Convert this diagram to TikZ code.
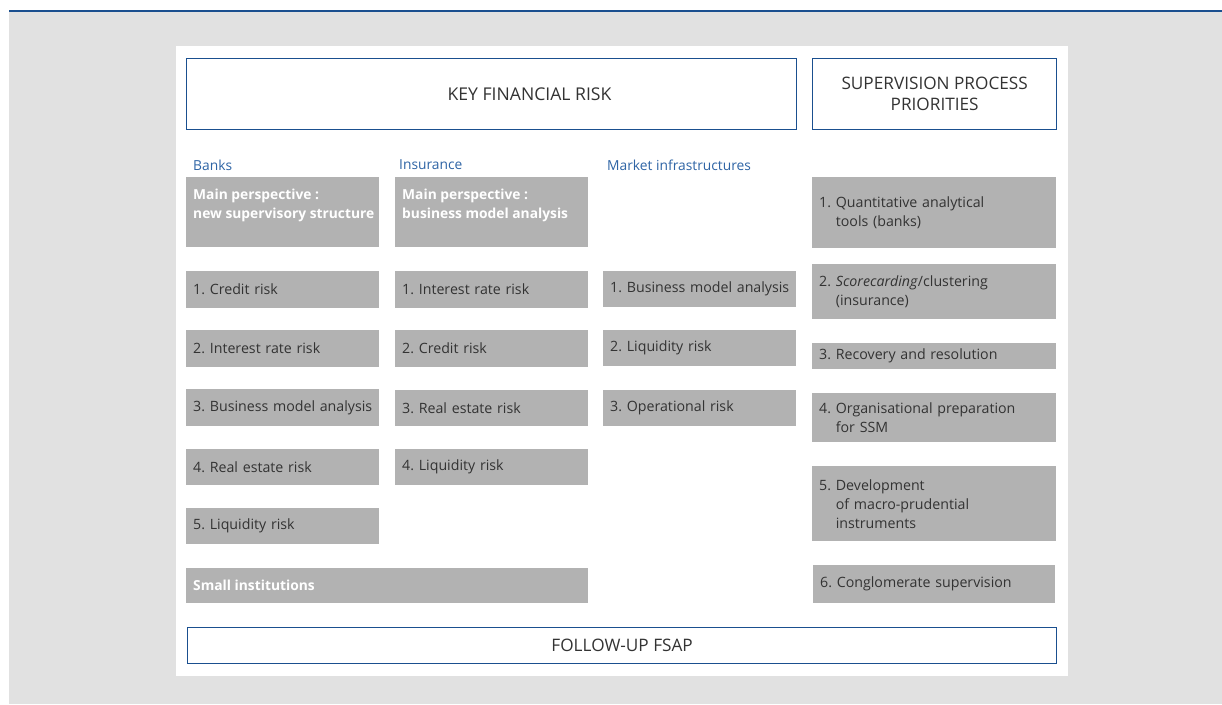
\documentclass[tikz,border=0pt]{standalone}
\usepackage{fontspec}
\setmainfont{Open Sans}
\frenchspacing
\definecolor{bgray}{HTML}{E1E1E1}
\definecolor{boxgray}{HTML}{B2B2B2}
\definecolor{ecbblue}{HTML}{1A4F8F}
\definecolor{lblblue}{HTML}{2E64A5}
\definecolor{txt}{HTML}{333333}
\tikzset{
  gbox/.style={fill=boxgray, draw=none, anchor=north west, inner xsep=7pt, inner ysep=0pt, align=left, text=txt, font=\fontsize{14.2}{19}\selectfont\frenchspacing},
  htext/.style={anchor=north west, inner sep=0pt, align=left, text=white, font=\fontsize{13.8}{19}\selectfont\bfseries},
  hbox/.style={draw=ecbblue, line width=1.3pt, fill=white, anchor=north west, inner sep=0pt, align=center, text=txt, font=\fontsize{17.2}{21}\selectfont},
  htitle/.style={inner sep=0pt, text=txt, font=\fontsize{17.6}{21}\selectfont},
  collabel/.style={anchor=west, inner sep=0pt, text=lblblue, font=\fontsize{13.8}{16}\selectfont},
}
\newcommand{\gb}[6]{% name, x, y, w, h, text
  \node[gbox, minimum width=#4pt, minimum height=#5pt, text width=#4pt-14pt] (#1) at (#2,#3) {#6};}
\newcommand{\ind}[1]{\hphantom{#1.\ }}
\begin{document}
\begin{tikzpicture}[x=1pt,y=-1pt]
\useasboundingbox (0,0) rectangle (1222,704);
\fill[white] (0,0) rectangle (1222,704);
\fill[bgray] (9,11) rectangle (1222,704);
\draw[ecbblue, line width=2pt] (9,11) -- (1222,11);
\fill[white] (176,46) rectangle (1068,676);
% header boxes
\node[hbox, minimum width=610pt, minimum height=71pt] (key) at (186,58) {};
\node[htitle] (keyt) at (529.5,94) {KEY FINANCIAL RISK};
\node[hbox, minimum width=244pt, minimum height=71pt] (sup) at (812,58) {SUPERVISION PROCESS\\PRIORITIES};
\node[hbox, minimum width=869pt, minimum height=36pt] (fsap) at (187,627) {FOLLOW-UP FSAP};
% column labels
\node[collabel] (lbanks) at (193,165) {Banks};
\node[collabel] (lins) at (399,165) {Insurance};
\node[collabel] (lmkt) at (607,165) {Market infrastructures};
% main perspective
\node[gbox, minimum width=193pt, minimum height=70pt] (bmain) at (186,177) {};
\node[htext] (bmaint) at ([xshift=7pt,yshift=-12pt]bmain.north west) {Main perspective :\\new supervisory structure};
\node[gbox, minimum width=193pt, minimum height=70pt] (imain) at (395,177) {};
\node[htext] (imaint) at ([xshift=7pt,yshift=-12pt]imain.north west) {Main perspective :\\business model analysis};
% banks
\gb{b1}{186}{271}{193}{37}{1. Credit risk}
\gb{b2}{186}{330}{193}{37}{2. Interest rate risk}
\gb{b3}{186}{389}{193}{37}{\mbox{3. Business model analysis}}
\gb{b4}{186}{449}{193}{36}{4. Real estate risk}
\gb{b5}{186}{508}{193}{36}{5. Liquidity risk}
% insurance
\gb{i1}{395}{271}{193}{37}{1. Interest rate risk}
\gb{i2}{395}{330}{193}{37}{2. Credit risk}
\gb{i3}{395}{390}{193}{36}{3. Real estate risk}
\gb{i4}{395}{449}{193}{36}{4. Liquidity risk}
% market infrastructures
\gb{m1}{603}{271}{193}{36}{\mbox{1. Business model analysis}}
\gb{m2}{603}{330}{193}{36}{2. Liquidity risk}
\gb{m3}{603}{390}{193}{36}{3. Operational risk}
% small institutions
\node[gbox, minimum width=402pt, minimum height=35pt] (small) at (186,568) {};
\node[htext, anchor=west] (smallt) at ([xshift=7pt]small.west) {Small institutions};
% supervision priorities
\gb{s1}{812}{177}{244}{71}{1. Quantitative analytical\\\ind{1}tools (banks)}
\gb{s2}{812}{264}{244}{55}{2. \textit{Scorecarding}/clustering\\\ind{2}(insurance)}
\gb{s3}{812}{343}{244}{26}{3. Recovery and resolution}
\gb{s4}{812}{393}{244}{49}{4. Organisational preparation\\\ind{4}for SSM}
\gb{s5}{812}{466}{244}{75}{5. Development\\\ind{5}of macro-prudential\\\ind{5}instruments}
\gb{s6}{813}{565}{242}{38}{6. Conglomerate supervision}
\end{tikzpicture}
\end{document}
